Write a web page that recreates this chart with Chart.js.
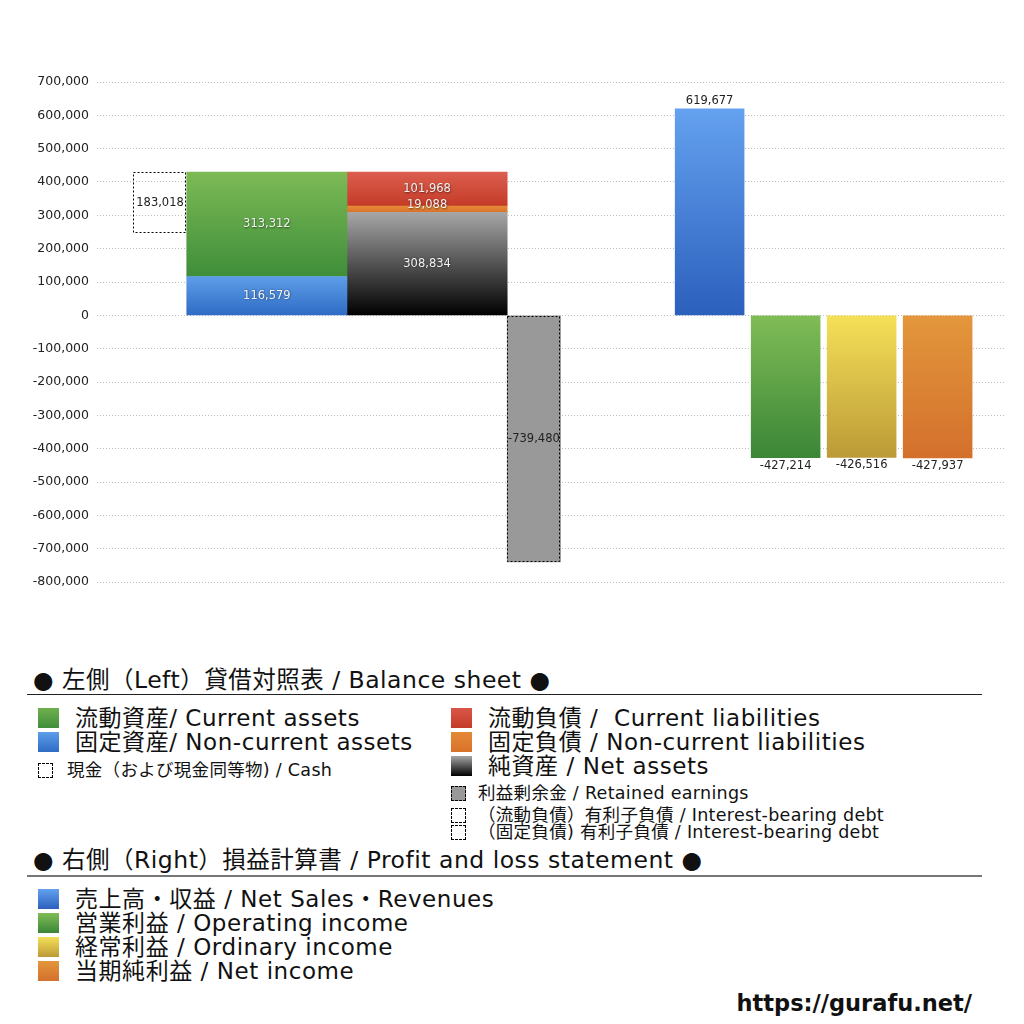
<!DOCTYPE html>
<html lang="ja">
<head>
    <meta charset="UTF-8">
    <title>貸借対照表 / 損益計算書</title>
    <script src="https://cdn.jsdelivr.net/npm/chart.js"></script>
    <style>
        body { margin: 0; background: #fff; font-family: "DejaVu Sans", "Noto Sans CJK JP", sans-serif; color: #111; }
        #page { position: relative; width: 1024px; height: 1024px; overflow: hidden; }
        #bsChart { position: absolute; left: 0; top: 0; }
        .row { position: absolute; height: 24px; line-height: 24px; white-space: nowrap; display: flex; align-items: center; }
        .head { font-size: 23.5px; letter-spacing: 0.5px; }
        .big { font-size: 23px; letter-spacing: 0.55px; }
        .small { font-size: 17.5px; letter-spacing: 0.3px; }
        .sw { display: inline-block; width: 21px; height: 20px; margin-right: 16px; flex: none; }
        .sw-s { display: inline-block; width: 13px; height: 13px; border: 1px dashed #000; margin-right: 14px; flex: none; }
        .rule { position: absolute; left: 27px; width: 955px; }
    </style>
</head>
<body>
<div id="page">
    <canvas id="bsChart" width="1024" height="610"></canvas>

    <!-- Balance sheet legend -->
    <div class="row head" style="left:33px; top:668px;">● 左側（Left）貸借対照表 / Balance sheet ●</div>
    <div class="rule" style="top:694px; height:1px; background:#222;"></div>

    <div class="row big" style="left:38px; top:706px;"><span class="sw" style="background:linear-gradient(#6fb04e,#3f8e3a)"></span>流動資産/ Current assets</div>
    <div class="row big" style="left:38px; top:730px;"><span class="sw" style="background:linear-gradient(#5e9de8,#2e6cc5)"></span>固定資産/ Non-current assets</div>
    <div class="row small" style="left:38px; top:758px;"><span class="sw-s"></span>現金（および現金同等物) / Cash</div>

    <div class="row big" style="left:451px; top:706px;"><span class="sw" style="background:linear-gradient(#d9574a,#c43b27)"></span>流動負債 / &nbsp;Current liabilities</div>
    <div class="row big" style="left:451px; top:730px;"><span class="sw" style="background:linear-gradient(#e58a36,#d9722b)"></span>固定負債 / Non-current liabilities</div>
    <div class="row big" style="left:451px; top:754px;"><span class="sw" style="background:linear-gradient(#a6a6a6,#000)"></span>純資産 / Net assets</div>
    <div class="row small" style="left:451px; top:781px;"><span class="sw-s" style="background:#999; margin-right:12px;"></span>利益剰余金 / Retained earnings</div>
    <div class="row small" style="left:451px; top:803px;"><span class="sw-s" style="margin-right:12px;"></span>（流動負債）有利子負債 / Interest-bearing debt</div>
    <div class="row small" style="left:451px; top:820px;"><span class="sw-s" style="margin-right:12px;"></span>（固定負債) 有利子負債 / Interest-bearing debt</div>

    <!-- Profit and loss legend -->
    <div class="row head" style="left:33px; top:848px;">● 右側（Right）損益計算書 / Profit and loss statement ●</div>
    <div class="rule" style="top:875px; height:2px; background:#777;"></div>

    <div class="row big" style="left:38px; top:887px;"><span class="sw" style="background:linear-gradient(#64a1ef,#2b60bd)"></span>売上高・収益 / Net Sales・Revenues</div>
    <div class="row big" style="left:38px; top:911px;"><span class="sw" style="background:linear-gradient(#80bc56,#3b8637)"></span>営業利益 / Operating income</div>
    <div class="row big" style="left:38px; top:935px;"><span class="sw" style="background:linear-gradient(#f5e058,#bb9a37)"></span>経常利益 / Ordinary income</div>
    <div class="row big" style="left:38px; top:959px;"><span class="sw" style="background:linear-gradient(#e3973c,#d3702c)"></span>当期純利益 / Net income</div>

    <div class="row" style="right:52px; top:991px; font-size:22.5px; font-weight:bold;">https://gurafu.net/</div>
</div>

<script>
    // balance sheet (left side)
    const assetNames = ['固定資産', '流動資産'];
    const assetValues = [116579, 313312];
    const claimNames = ['純資産', '固定負債', '流動負債'];
    const claimValues = [308834, 19088, 101968];
    const cashValue = 183018;
    const retainedValue = -739480;

    // profit and loss (right side)
    const plNames = ['売上高・収益', '営業利益', '経常利益', '当期純利益'];
    const plValues = [619677, -427214, -426516, -427937];

    // y axis
    const yMin = -800000;
    const yMax = 700000;
    const yStep = 100000;

    // layout: x axis is 17 slots wide, bars are placed on it
    const slotCount = 17;
    const bsStart = 1.18;      // centre of the cash box
    const plStart = 11.47;     // centre of the sales bar
    const plPitch = 1.423;
    const plWidth = 1.29;
    const unitPx = 908 / slotCount;

    const numFont = '"DejaVu Sans", sans-serif';
    const fmt = v => v.toLocaleString('en-US');

    function grad(top, bottom) {
        return (c) => {
            const chart = c.chart;
            if (!chart.chartArea || !c.raw) return bottom;
            const ys = chart.scales.y;
            const hi = Math.max(c.raw.y[0], c.raw.y[1]);
            const lo = Math.min(c.raw.y[0], c.raw.y[1]);
            const g = chart.ctx.createLinearGradient(0, ys.getPixelForValue(hi), 0, ys.getPixelForValue(lo));
            g.addColorStop(0, top);
            g.addColorStop(1, bottom);
            return g;
        };
    }

    const assetColors = [['#5e9de8', '#2e6cc5'], ['#7cba55', '#3f8e3a']];
    const claimColors = [['#a6a6a6', '#000000'], ['#e58a36', '#d9722b'], ['#dc5e4f', '#c43b27']];
    const plColors = [['#64a1ef', '#2b60bd'], ['#80bc56', '#3b8637'], ['#f5e058', '#bb9a37'], ['#e3973c', '#d3702c']];

    const datasets = [];
    const totalAssets = assetValues.reduce((a, b) => a + b, 0);

    // cash box hangs from the top of the assets column
    datasets.push({
        label: '現金',
        data: [{ x: bsStart, y: [totalAssets - cashValue, totalAssets] }],
        backgroundColor: 'rgba(255,255,255,0)',
        barThickness: unitPx,
        dashed: true, shown: cashValue, place: 'inside', dark: true
    });

    let run = 0;
    assetValues.forEach((v, i) => {
        datasets.push({
            label: assetNames[i],
            data: [{ x: bsStart + 2, y: [run, run + v] }],
            backgroundColor: grad(assetColors[i][0], assetColors[i][1]),
            barThickness: unitPx * 3,
            shown: v, place: 'inside'
        });
        run += v;
    });

    run = 0;
    claimValues.forEach((v, i) => {
        datasets.push({
            label: claimNames[i],
            data: [{ x: bsStart + 5, y: [run, run + v] }],
            backgroundColor: grad(claimColors[i][0], claimColors[i][1]),
            barThickness: unitPx * 3,
            shown: v, place: 'inside', nudge: i === 1 ? -4 : 0
        });
        run += v;
    });

    datasets.push({
        label: '利益剰余金',
        data: [{ x: bsStart + 7, y: [retainedValue, 0] }],
        backgroundColor: '#999999',
        barThickness: unitPx,
        dashed: true, shown: retainedValue, place: 'inside', dark: true
    });

    plValues.forEach((v, i) => {
        datasets.push({
            label: plNames[i],
            data: [{ x: plStart + plPitch * i, y: [0, v] }],
            backgroundColor: grad(plColors[i][0], plColors[i][1]),
            barThickness: unitPx * plWidth,
            shown: v, place: v >= 0 ? 'above' : 'below', dark: true
        });
    });

    // draws the value labels and the dashed outlines
    const valueLabels = {
        id: 'valueLabels',
        afterDatasetsDraw(chart) {
            const ctx = chart.ctx;
            chart.data.datasets.forEach((ds, i) => {
                chart.getDatasetMeta(i).data.forEach(bar => {
                    const p = bar.getProps(['x', 'y', 'base', 'width'], true);
                    const top = Math.min(p.y, p.base);
                    const bottom = Math.max(p.y, p.base);
                    if (ds.dashed) {
                        ctx.save();
                        ctx.setLineDash([2, 2]);
                        ctx.strokeStyle = '#000';
                        ctx.lineWidth = 1;
                        ctx.strokeRect(Math.round(p.x - p.width / 2) + 0.5, Math.round(top) + 0.5,
                            Math.round(p.width) - 1, Math.round(bottom - top) - 1);
                        ctx.restore();
                    }
                    ctx.save();
                    ctx.font = '11.5px ' + numFont;
                    ctx.textAlign = 'center';
                    ctx.textBaseline = 'middle';
                    let ty = (top + bottom) / 2 + (ds.nudge || 0);
                    if (ds.place === 'above') ty = top - 8;
                    if (ds.place === 'below') ty = bottom + 8;
                    if (ds.dark) {
                        ctx.fillStyle = '#222';
                    } else {
                        ctx.fillStyle = '#f2f2f2';
                        ctx.shadowColor = 'rgba(0,0,0,0.55)';
                        ctx.shadowBlur = 2;
                        ctx.shadowOffsetX = 0.5;
                        ctx.shadowOffsetY = 0.5;
                    }
                    ctx.fillText(fmt(ds.shown), p.x, ty);
                    ctx.restore();
                });
            });
        }
    };

    new Chart(document.getElementById('bsChart'), {
        type: 'bar',
        data: { datasets },
        options: {
            responsive: false,
            animation: false,
            layout: { padding: { top: 82, bottom: 28, right: 19, left: 0 } },
            plugins: { legend: { display: false }, tooltip: { enabled: false } },
            datasets: { bar: { grouped: false, borderWidth: 0 } },
            scales: {
                x: { type: 'linear', min: 0, max: slotCount, display: false, offset: false },
                y: {
                    min: yMin,
                    max: yMax,
                    afterFit: s => { s.width = 97; },
                    border: { display: false, dash: [1, 2] },
                    grid: { color: '#bdbdbd', drawTicks: false },
                    ticks: {
                        stepSize: yStep,
                        padding: 8,
                        color: '#222',
                        font: { family: numFont, size: 12.5 },
                        callback: v => fmt(v)
                    }
                }
            }
        },
        plugins: [valueLabels]
    });
</script>
</body>
</html>
